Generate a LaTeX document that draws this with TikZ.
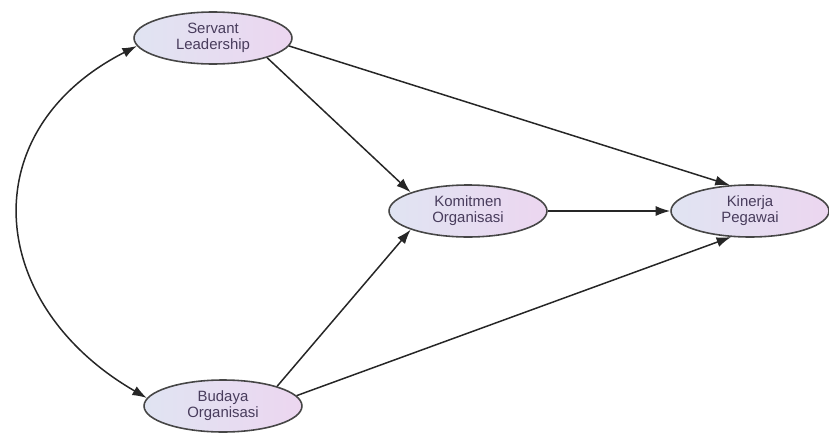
\documentclass[tikz,border=0pt]{standalone}
\usepackage{fontspec}
\setmainfont{Liberation Sans}
\usetikzlibrary{arrows.meta,shapes.geometric}

\definecolor{varleft}{RGB}{224,228,242}
\definecolor{varright}{RGB}{236,214,240}
\definecolor{vartext}{RGB}{72,60,92}
\definecolor{varline}{RGB}{70,70,70}

\begin{document}
\begin{tikzpicture}[x=0.02cm,y=-0.02cm,>={Latex[length=2.9mm,width=2mm]},
    var/.style={ellipse,draw=varline,line width=0.9pt,left color=varleft,right color=varright,
                minimum width=3.16cm,minimum height=1.04cm,inner sep=0pt,align=center,
                text=vartext,font=\fontsize{8.5}{9}\selectfont},
    path/.style={line width=0.85pt,draw=black!85}]
  \useasboundingbox (0,0) rectangle (829,433);

  \node[var] (serv) at (213,38) {Servant\\Leadership};
  \node[var] (kom) at (468,211) {Komitmen\\Organisasi};
  \node[var] (kin) at (750,211) {Kinerja\\Pegawai};
  \node[var] (bud) at (223,406) {Budaya\\Organisasi};

  \draw[->,path] (serv.-20) -- (kom.162);
  \draw[->,path] (serv.-6) -- (kin.128);
  \draw[->,path] (kom) -- (kin);
  \draw[->,path] (bud.20) -- (kom.-162);
  \draw[->,path] (bud.8) -- (kin.-126);
  \draw[<->,path] (serv.186) to[out=207,in=150,looseness=1.35] (bud.174);
\end{tikzpicture}
\end{document}
